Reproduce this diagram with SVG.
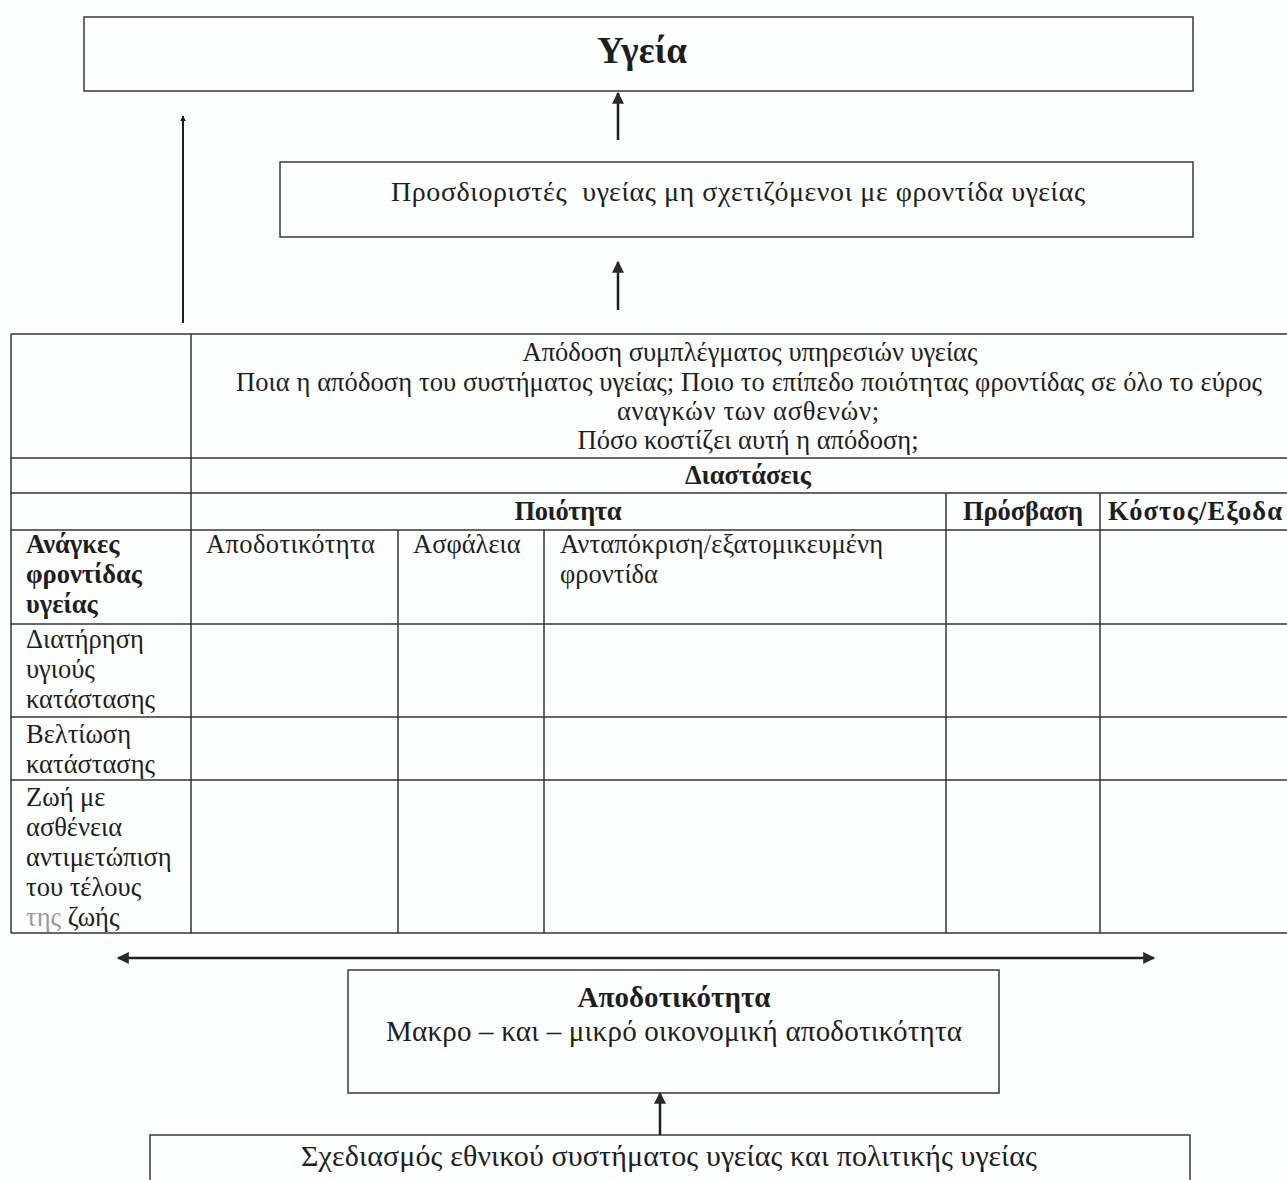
<svg xmlns="http://www.w3.org/2000/svg" width="1287" height="1180" viewBox="0 0 1287 1180">
  <style>
    text { font-family: "Liberation Serif", "DejaVu Serif", serif; fill: #1e1e1e; font-size: 26.5px; }
    .b { font-weight: bold; }
    .c { text-anchor: middle; }
    .box { fill: none; stroke: #3a3a3a; stroke-width: 1.5; }
    .grid { stroke: #333; stroke-width: 1.5; fill: none; }
    .conn { stroke: #1e1e1e; stroke-width: 2.5; fill: none; }
  </style>
  <defs>
    <marker id="head" viewBox="0 0 10 10" refX="9" refY="5" markerWidth="6" markerHeight="6" markerUnits="userSpaceOnUse" orient="auto-start-reverse">
      <path d="M0,0 L10,5 L0,10 z" fill="#1e1e1e"/>
    </marker>
    <marker id="headL" viewBox="0 0 10 10" refX="9" refY="5" markerWidth="16" markerHeight="12" markerUnits="userSpaceOnUse" orient="auto-start-reverse">
      <path d="M0,0 L10,5 L0,10 z" fill="#2a2a2a"/>
    </marker>
  </defs>

  <rect width="1287" height="1180" fill="#fdfefe"/>

  <!-- Health outcome -->
  <g id="box-health">
    <rect class="box" x="84" y="17" width="1109" height="74"/>
    <text class="b c" x="642" y="63" style="font-size:37px" textLength="90">Υγεία</text>
  </g>

  <!-- Non-care determinants -->
  <g id="box-determinants">
    <rect class="box" x="280" y="162" width="913" height="75"/>
    <text x="391" y="201" style="font-size:28px; white-space:pre" xml:space="preserve" textLength="694">Προσδιοριστές  υγείας μη σχετιζόμενοι με φροντίδα υγείας</text>
  </g>

  <!-- Performance framework table -->
  <g id="table-performance">
    <!-- horizontal rules -->
    <line class="grid" x1="11" y1="334" x2="1300" y2="334"/>
    <line class="grid" x1="11" y1="458" x2="1300" y2="458"/>
    <line class="grid" x1="11" y1="493" x2="1300" y2="493"/>
    <line class="grid" x1="11" y1="530" x2="1300" y2="530"/>
    <line class="grid" x1="11" y1="624" x2="1300" y2="624"/>
    <line class="grid" x1="11" y1="717" x2="1300" y2="717"/>
    <line class="grid" x1="11" y1="780" x2="1300" y2="780"/>
    <line class="grid" x1="11" y1="933" x2="1300" y2="933"/>
    <!-- vertical rules -->
    <line class="grid" x1="11" y1="334" x2="11" y2="933"/>
    <line class="grid" x1="191" y1="334" x2="191" y2="933"/>
    <line class="grid" x1="398" y1="530" x2="398" y2="933"/>
    <line class="grid" x1="544" y1="530" x2="544" y2="933"/>
    <line class="grid" x1="946" y1="493" x2="946" y2="933"/>
    <line class="grid" x1="1100" y1="493" x2="1100" y2="933"/>

    <text class="c" x="750" y="361" textLength="455">Απόδοση συμπλέγματος υπηρεσιών υγείας</text>
    <text class="c" x="749" y="391" textLength="1026">Ποια η απόδοση του συστήματος υγείας; Ποιο το επίπεδο ποιότητας φροντίδας σε όλο το εύρος</text>
    <text class="c" x="748" y="420" textLength="262">αναγκών των ασθενών;</text>
    <text class="c" x="748" y="449" textLength="341">Πόσο κοστίζει αυτή η απόδοση;</text>

    <text class="b c" x="748" y="484" textLength="126">Διαστάσεις</text>

    <text class="b c" x="568" y="520" textLength="107">Ποιότητα</text>
    <text class="b c" x="1023" y="520" textLength="120">Πρόσβαση</text>
    <text class="b" x="1108" y="520" textLength="174">Κόστος/Εξοδα</text>

    <text class="b" x="26" y="553">Ανάγκες</text>
    <text class="b" x="26" y="583">φροντίδας</text>
    <text class="b" x="26" y="613">υγείας</text>
    <text x="206" y="553" textLength="169">Αποδοτικότητα</text>
    <text x="413" y="553">Ασφάλεια</text>
    <text x="560" y="553" textLength="323">Ανταπόκριση/εξατομικευμένη</text>
    <text x="560" y="583">φροντίδα</text>

    <text x="26" y="648">Διατήρηση</text>
    <text x="26" y="678">υγιούς</text>
    <text x="26" y="708">κατάστασης</text>

    <text x="26" y="743">Βελτίωση</text>
    <text x="26" y="773">κατάστασης</text>

    <text x="26" y="806">Ζωή με</text>
    <text x="26" y="836">ασθένεια</text>
    <text x="26" y="866">αντιμετώπιση</text>
    <text x="26" y="896">του τέλους</text>
    <text x="26" y="926"><tspan fill="#9a9a9a">της</tspan> ζωής</text>
  </g>

  <!-- Efficiency -->
  <g id="box-efficiency">
    <rect class="box" x="348" y="970" width="651" height="123"/>
    <text class="b c" x="674" y="1007" style="font-size:29px" textLength="193">Αποδοτικότητα</text>
    <text class="c" x="674" y="1041" style="font-size:29px" textLength="576">Μακρο – και – μικρό οικονομική αποδοτικότητα</text>
  </g>

  <!-- National planning -->
  <g id="box-planning">
    <rect class="box" x="150" y="1135" width="1040" height="60"/>
    <text class="c" x="669" y="1166" style="font-size:30px" textLength="736">Σχεδιασμός εθνικού συστήματος υγείας και πολιτικής υγείας</text>
  </g>

  <g id="connectors">
    <line class="conn" x1="618" y1="140" x2="618" y2="93" marker-end="url(#headL)"/>
    <line class="conn" x1="618" y1="310" x2="618" y2="262" marker-end="url(#headL)"/>
    <line x1="183" y1="323" x2="183" y2="116" stroke="#1e1e1e" stroke-width="2" marker-end="url(#head)"/>
    <line class="conn" x1="118" y1="958" x2="1154" y2="958" stroke-width="2" marker-start="url(#headL)" marker-end="url(#headL)"/>
    <line class="conn" x1="660" y1="1135" x2="660" y2="1093" marker-end="url(#headL)"/>
  </g>
</svg>
